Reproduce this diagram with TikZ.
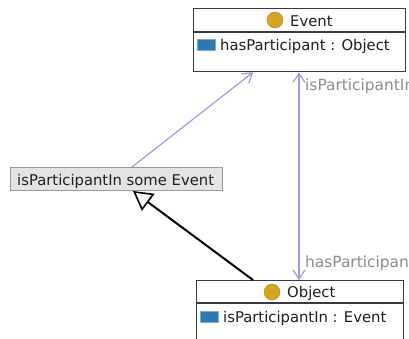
\documentclass[tikz,border=0pt]{standalone}
\usepackage{fontspec}
\setmainfont{DejaVu Sans}
\usetikzlibrary{arrows.meta,calc}
\definecolor{lav}{HTML}{9C9CDC}
\definecolor{lblgray}{HTML}{8C8C8C}
\definecolor{gold}{HTML}{D6A424}
\definecolor{attrblue}{HTML}{2B78B5}
\definecolor{attredge}{HTML}{78AED6}
\definecolor{clsfill}{HTML}{E4E4E4}
\definecolor{clsedge}{HTML}{9A9A9A}
\definecolor{boxedge}{HTML}{3A3A3A}
\tikzset{
  umlbox/.style={draw=boxedge, line width=1.3pt, fill=white, inner sep=0pt, anchor=north west},
  sepline/.style={draw=boxedge, line width=1.1pt},
  clsbox/.style={draw=clsedge, line width=1pt, fill=clsfill, inner sep=0pt, anchor=north west},
  classdot/.style={circle, fill=gold, draw=gold!85!black, line width=0.4pt, minimum size=16pt, inner sep=0pt},
  attricon/.style={rectangle, fill=attrblue, draw=attredge, line width=0.8pt, minimum width=18pt, minimum height=11pt, inner sep=0pt},
  txt/.style={inner sep=0pt, anchor=base west, text=black!88},
  lbl/.style={inner sep=0pt, anchor=base west, text=lblgray, font=\fontsize{15.4}{18}\selectfont},
  lavline/.style={draw=lav, line width=1.2pt},
  inherit/.style={draw=black, line width=2pt, -{Triangle[open,length=19pt,width=21pt,line width=1.6pt,fill=white]}}
}
\begin{document}
\begin{tikzpicture}[x=1pt,y=-1pt,font=\fontsize{14.8}{17}\selectfont]
\useasboundingbox (0,0) rectangle (409,338);

% Event class
\node[umlbox, minimum width=212pt, minimum height=63pt] (event) at (193,8) {};
\draw[sepline] ($(event.north west)+(0,24)$) -- ($(event.north east)+(0,24)$);
\node[classdot] (edot) at (275,20) {};
\node[txt] (etitle) at (290,26) {Event};
\node[attricon, anchor=north west] (eattr) at (197,39) {};
\node[txt] (eattrtxt) at (220,50) {hasParticipant : Object};

% Object class
\node[umlbox, minimum width=207pt, minimum height=75pt] (object) at (196,280) {};
\draw[sepline] ($(object.north west)+(0,23)$) -- ($(object.north east)+(0,23)$);
\node[classdot] (odot) at (272,292) {};
\node[txt] (otitle) at (287,297) {Object};
\node[attricon, anchor=north west] (oattr) at (200,311) {};
\node[txt] (oattrtxt) at (223,322) {isParticipantIn : Event};

% anonymous class expression
\node[clsbox, minimum width=212pt, minimum height=23pt] (cls) at (10,167) {};
\node[txt] (clstxt) at (17,185) {isParticipantIn some Event};

% connectors
\coordinate (clstop) at ($(cls.north west)+(122,0)$);
\coordinate (eventdiag) at ($(event.south west)+(60,0)$);
\draw[lavline, -{Straight Barb[length=9pt,width=12pt,line width=1.2pt]}] (clstop) -- (eventdiag);

\coordinate (eventv) at ($(event.south west)+(106,0)$);
\coordinate (objectv) at ($(object.north west)+(103,0)$);
\draw[lavline, {Straight Barb[length=9pt,width=12pt,line width=1.2pt]}-{Straight Barb[length=9pt,width=12pt,line width=1.2pt]}] (eventv) -- (objectv);

\node[lbl] (lblin) at (305,90) {isParticipantIn};
\node[lbl] (lblhas) at (305,267) {hasParticipant};

\coordinate (objdiag) at ($(object.north west)+(57,0)$);
\coordinate (clsbot) at ($(cls.south west)+(123,0)$);
\draw[inherit] (objdiag) -- (clsbot);
\end{tikzpicture}
\end{document}
